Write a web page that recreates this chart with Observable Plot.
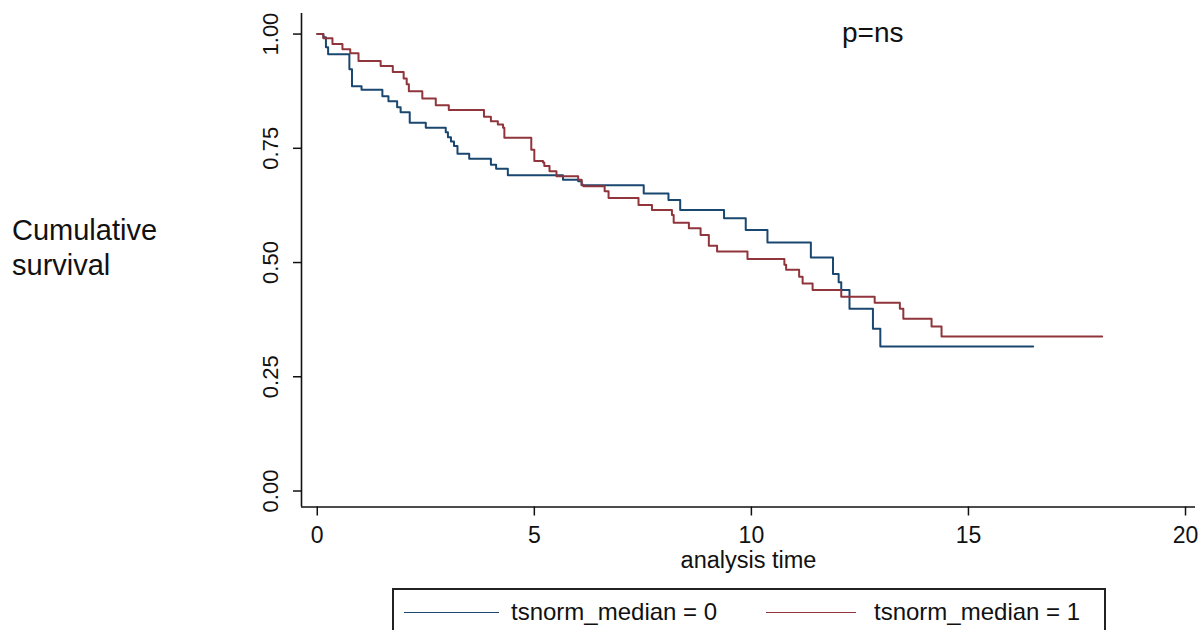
<!DOCTYPE html>
<html><head><meta charset="utf-8">
<script src="https://cdn.jsdelivr.net/npm/d3@7"></script>
<script src="https://cdn.jsdelivr.net/npm/@observablehq/plot@0.6"></script>
<style>
body{margin:0;background:#fff;font-family:"Liberation Sans",Arial,sans-serif;}
#wrap{position:relative;width:1199px;height:630px;overflow:hidden;background:#fff;}
#wrap svg{position:absolute;left:0;top:0;}
.ov{position:absolute;white-space:nowrap;color:#111;}
#ytitle{left:12px;top:213px;font-size:29px;line-height:35px;}
#pval{left:842px;top:19.3px;font-size:28px;line-height:28px;}
#legend{position:absolute;left:392px;top:588px;width:714px;height:60px;border:2px solid #222;border-bottom:none;box-sizing:border-box;}
.lgline{position:absolute;height:0;border-top:1.4px solid;}
.lgtext{position:absolute;font-size:24px;line-height:24px;color:#111;white-space:nowrap;}
</style></head>
<body><div id="wrap"></div>
<script>
// ---- data ----
const seriesNames = ["tsnorm_median = 0", "tsnorm_median = 1"];
const seriesColors = ["#1a476f", "#90353b"];

const time0 = [0, 0.14, 0.20, 0.25, 0.74, 0.80, 1.02, 1.50, 1.64, 1.84, 1.92, 2.13, 2.50, 2.96, 3.01, 3.08, 3.15, 3.23, 3.50, 4.00, 4.12, 4.39, 5.66, 6.01, 6.09, 7.52, 8.09, 8.36, 9.37, 9.87, 10.37, 11.37, 11.88, 12.01, 12.07, 12.26, 12.80, 12.97, 16.49];
const surv0 = [1.000, 0.993, 0.971, 0.956, 0.923, 0.886, 0.878, 0.864, 0.853, 0.840, 0.829, 0.806, 0.795, 0.785, 0.774, 0.765, 0.755, 0.738, 0.727, 0.714, 0.705, 0.691, 0.681, 0.678, 0.669, 0.651, 0.637, 0.615, 0.597, 0.571, 0.544, 0.511, 0.475, 0.457, 0.440, 0.399, 0.355, 0.316, 0.316];

const time1 = [0, 0.14, 0.35, 0.58, 0.76, 0.95, 1.46, 1.74, 1.99, 2.06, 2.11, 2.42, 2.73, 3.03, 3.84, 4.00, 4.16, 4.28, 4.31, 4.93, 5.00, 5.20, 5.23, 5.35, 5.51, 6.01, 6.09, 6.13, 6.62, 6.71, 7.40, 7.71, 8.17, 8.21, 8.56, 8.83, 9.02, 9.21, 9.91, 10.76, 10.80, 11.10, 11.18, 11.41, 12.07, 12.84, 13.42, 13.50, 14.15, 14.38, 18.08];
const surv1 = [1.000, 0.991, 0.978, 0.967, 0.958, 0.941, 0.930, 0.917, 0.903, 0.890, 0.875, 0.859, 0.844, 0.834, 0.819, 0.809, 0.802, 0.795, 0.773, 0.747, 0.722, 0.719, 0.711, 0.700, 0.689, 0.681, 0.670, 0.667, 0.656, 0.641, 0.626, 0.615, 0.604, 0.587, 0.575, 0.560, 0.537, 0.524, 0.508, 0.495, 0.484, 0.469, 0.454, 0.440, 0.425, 0.412, 0.399, 0.377, 0.360, 0.338, 0.338];

const xTicks = [0, 5, 10, 15, 20];
const yTicks = [0, 0.25, 0.5, 0.75, 1];
const xTitle = "analysis time";
const yTitleLines = ["Cumulative", "survival"];
const annotation = "p=ns";

// ---- build ----
const rows = [
  ...time0.map((t, i) => ({time: t, surv: surv0[i], group: seriesNames[0]})),
  ...time1.map((t, i) => ({time: t, surv: surv1[i], group: seriesNames[1]}))
];
const xMin = -0.363, xMax = 20.23, yMin = -0.035, yMax = 1.045;

const chart = Plot.plot({
  width: 1199, height: 588,
  marginLeft: 301, marginRight: 4, marginTop: 13, marginBottom: 81.5,
  style: {fontFamily: "'Liberation Sans', Arial, sans-serif", background: "#fff", color: "#111"},
  x: {domain: [xMin, xMax]},
  y: {domain: [yMin, yMax]},
  color: {domain: seriesNames, range: seriesColors},
  marks: [
    Plot.axisX({ticks: xTicks, tickSize: 9, tickPadding: 11, fontSize: 23, strokeWidth: 1.5, label: null}),
    Plot.axisX({ticks: [], tickSize: 0, fontSize: 23.5,
      label: xTitle, labelAnchor: "center", labelOffset: 61, labelArrow: "none"}),
    Plot.axisY({ticks: yTicks, tickFormat: d3.format(".2f"), tickSize: 8, tickPadding: 16,
      tickRotate: -90, textAnchor: "middle", lineAnchor: "bottom", fontSize: 22, strokeWidth: 1.5, label: null}),
    Plot.ruleX([xMin], {stroke: "#111", strokeWidth: 1.6}),
    Plot.ruleY([yMin], {stroke: "#111", strokeWidth: 1.6}),
    Plot.line(rows, {x: "time", y: "surv", z: "group", stroke: "group", curve: "step-after", strokeWidth: 2})
  ]
});

const wrap = document.getElementById("wrap");
wrap.appendChild(chart);

const yt = document.createElement("div");
yt.id = "ytitle"; yt.className = "ov";
yt.innerHTML = yTitleLines.join("<br>");
wrap.appendChild(yt);

const pv = document.createElement("div");
pv.id = "pval"; pv.className = "ov";
pv.textContent = annotation;
wrap.appendChild(pv);

const lg = document.createElement("div");
lg.id = "legend";
const lgItems = [{lineLeft: 10, lineW: 95, textLeft: 117}, {lineLeft: 372, lineW: 90, textLeft: 480}];
seriesNames.forEach((name, i) => {
  const ln = document.createElement("div");
  ln.className = "lgline";
  ln.style.left = lgItems[i].lineLeft + "px";
  ln.style.width = lgItems[i].lineW + "px";
  ln.style.top = "22px";
  ln.style.borderTopColor = seriesColors[i];
  lg.appendChild(ln);
  const tx = document.createElement("div");
  tx.className = "lgtext";
  tx.style.left = lgItems[i].textLeft + "px";
  tx.style.top = "10px";
  tx.textContent = name;
  lg.appendChild(tx);
});
wrap.appendChild(lg);
</script>
</body></html>
